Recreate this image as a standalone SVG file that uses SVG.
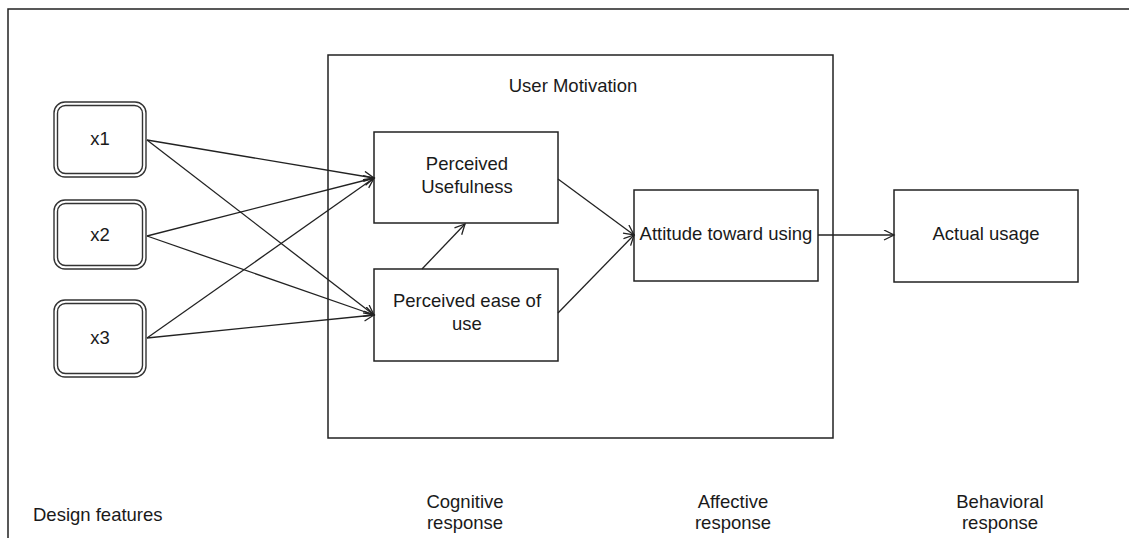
<svg xmlns="http://www.w3.org/2000/svg" width="1129" height="538" viewBox="0 0 1129 538">
<defs>
<marker id="arr" markerUnits="userSpaceOnUse" markerWidth="14" markerHeight="12" refX="11" refY="5.5" orient="auto">
<path d="M1,0.5 L11,5.5 L1,10.5" fill="none" stroke="#222" stroke-width="1.3"/>
</marker>
<style>
text{font-family:"Liberation Sans",Arial,sans-serif;font-size:18.5px;fill:#1a1a1a;}
.c{text-anchor:middle;}
.box{fill:#fff;stroke:#222;stroke-width:1.5;}
.frame{fill:none;stroke:#222;stroke-width:1.5;}
.rb{fill:#fff;stroke:#333;stroke-width:1.4;}
.rbi{fill:none;stroke:#333;stroke-width:1.4;}
.conn line{stroke:#222;stroke-width:1.3;marker-end:url(#arr);}
</style>
</defs>
<rect width="1129" height="538" fill="#fff"/>
<g id="frame">
<path class="frame" d="M8,538 L8,9 L1129,9"/>
</g>
<g id="user-motivation">
<rect class="box" x="328" y="55" width="505" height="383"/>
<text class="c" x="573" y="92">User Motivation</text>
</g>
<g id="x1">
<rect class="rb" x="54" y="102" width="92" height="75" rx="11"/>
<rect class="rbi" x="57.5" y="105.5" width="85" height="68" rx="8"/>
<text class="c" x="100" y="145">x1</text>
</g>
<g id="x2">
<rect class="rb" x="54" y="200" width="92" height="69" rx="11"/>
<rect class="rbi" x="57.5" y="203.5" width="85" height="62" rx="8"/>
<text class="c" x="100" y="241">x2</text>
</g>
<g id="x3">
<rect class="rb" x="54" y="300" width="92" height="77" rx="11"/>
<rect class="rbi" x="57.5" y="303.5" width="85" height="70" rx="8"/>
<text class="c" x="100" y="344">x3</text>
</g>
<g id="perceived-usefulness">
<rect class="box" x="374" y="132" width="184" height="91"/>
<text class="c" x="467" y="170">Perceived</text>
<text class="c" x="467" y="193">Usefulness</text>
</g>
<g id="perceived-ease">
<rect class="box" x="374" y="269" width="184" height="92"/>
<text class="c" x="467" y="307">Perceived ease of</text>
<text class="c" x="467" y="330">use</text>
</g>
<g id="attitude">
<rect class="box" x="634" y="190" width="184" height="91"/>
<text class="c" x="726" y="240">Attitude toward using</text>
</g>
<g id="actual-usage">
<rect class="box" x="894" y="190" width="184" height="92"/>
<text class="c" x="986" y="240">Actual usage</text>
</g>
<g id="labels">
<text x="33" y="521">Design features</text>
<text class="c" x="465" y="508">Cognitive</text>
<text class="c" x="465" y="529">response</text>
<text class="c" x="733" y="508">Affective</text>
<text class="c" x="733" y="529">response</text>
<text class="c" x="1000" y="508">Behavioral</text>
<text class="c" x="1000" y="529">response</text>
</g>
<g id="connectors" class="conn">
<line x1="147" y1="140" x2="374" y2="178"/>
<line x1="147" y1="140" x2="374" y2="315"/>
<line x1="147" y1="236" x2="374" y2="178"/>
<line x1="147" y1="236" x2="374" y2="315"/>
<line x1="147" y1="338" x2="374" y2="178"/>
<line x1="147" y1="338" x2="374" y2="315"/>
<line x1="422" y1="269" x2="465" y2="224"/>
<line x1="558" y1="179" x2="634" y2="235"/>
<line x1="558" y1="313" x2="634" y2="235"/>
<line x1="818" y1="235" x2="894" y2="235"/>
</g>
</svg>
